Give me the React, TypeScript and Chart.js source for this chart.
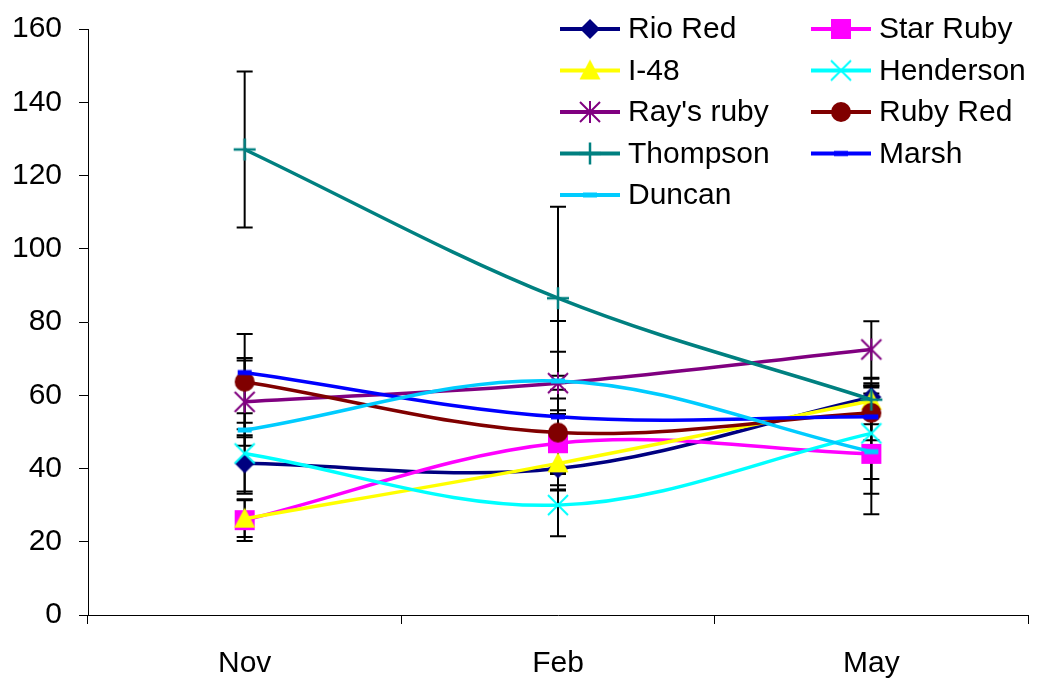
import React, { useEffect, useRef } from "react";
import { Chart, registerables } from "chart.js";

Chart.register(...registerables);

// ---------- data ----------
const months = ["Nov", "Feb", "May"];
const seriesNames = ["Rio Red", "Star Ruby", "I-48", "Henderson", "Ray's ruby", "Ruby Red", "Thompson", "Marsh", "Duncan"];

const rioRed = [41.4, 40.0, 59.5];
const starRuby = [25.9, 46.9, 44.0];
const i48 = [26.3, 41.4, 58.5];
const henderson = [44.1, 30.0, 49.6];
const raysRuby = [58.2, 63.3, 72.5];
const rubyRed = [63.7, 49.8, 55.2];
const thompson = [127.1, 86.5, 58.8];
const marsh = [66.2, 54.1, 54.1];
const duncan = [50.5, 63.9, 44.6];

const rioRedErr = [7.7, 6, 5];
const starRubyErr = [5.7, 8, 16.5];
const i48Err = [5, 6, 4];
const hendersonErr = [11, 8.5, 12.5];
const raysRubyErr = [12, 17, 7.7];
const rubyRedErr = [13, 15.5, 7.5];
const thompsonErr = [21.3, 25, 4.5];
const marshErr = [3.3, 5, 2];
const duncanErr = [2, 8, 11.5];

const yTicks = [0, 20, 40, 60, 80, 100, 120, 140, 160];

const seriesValues = [rioRed, starRuby, i48, henderson, raysRuby, rubyRed, thompson, marsh, duncan];
const seriesErrors = [rioRedErr, starRubyErr, i48Err, hendersonErr, raysRubyErr, rubyRedErr, thompsonErr, marshErr, duncanErr];
const seriesColors = ["#000080", "#FF00FF", "#FFFF00", "#00FFFF", "#800080", "#800000", "#008080", "#0000FF", "#00CCFF"];
const seriesMarkers = ["diamond", "square", "triangle", "x", "star", "circle", "plus", "dash", "dash"];

const FONT = "'Liberation Sans', Arial, Helvetica, sans-serif";
const FONT_SIZE = 30;

function makeMarker(kind: string, color: string): HTMLCanvasElement {
  const c = document.createElement("canvas");
  c.width = 26;
  c.height = 26;
  const g = c.getContext("2d")!;
  const m = 13;
  g.fillStyle = color;
  g.strokeStyle = color;
  g.lineCap = "butt";
  switch (kind) {
    case "diamond":
      g.beginPath();
      g.moveTo(m, m - 10);
      g.lineTo(m + 10, m);
      g.lineTo(m, m + 10);
      g.lineTo(m - 10, m);
      g.closePath();
      g.fill();
      break;
    case "square":
      g.fillRect(m - 10, m - 10, 20, 20);
      break;
    case "triangle":
      g.beginPath();
      g.moveTo(m, m - 11);
      g.lineTo(m + 10.5, m + 9);
      g.lineTo(m - 10.5, m + 9);
      g.closePath();
      g.fill();
      break;
    case "x":
      g.lineWidth = 2;
      g.beginPath();
      g.moveTo(m - 10, m - 10);
      g.lineTo(m + 10, m + 10);
      g.moveTo(m + 10, m - 10);
      g.lineTo(m - 10, m + 10);
      g.stroke();
      break;
    case "star":
      g.lineWidth = 2;
      g.beginPath();
      g.moveTo(m - 10, m - 10);
      g.lineTo(m + 10, m + 10);
      g.moveTo(m + 10, m - 10);
      g.lineTo(m - 10, m + 10);
      g.moveTo(m, m - 11);
      g.lineTo(m, m + 11);
      g.stroke();
      break;
    case "circle":
      g.beginPath();
      g.arc(m, m, 10, 0, Math.PI * 2);
      g.fill();
      break;
    case "plus":
      g.lineWidth = 2.5;
      g.beginPath();
      g.moveTo(m - 11, m);
      g.lineTo(m + 11, m);
      g.moveTo(m, m - 11);
      g.lineTo(m, m + 11);
      g.stroke();
      break;
    case "dash":
      g.fillRect(m - 7, m - 2.5, 14, 5);
      break;
  }
  return c;
}

const errorBarPlugin = {
  id: "errorBars",
  beforeDatasetsDraw(chart: any) {
    const ctx = chart.ctx;
    const ys = chart.scales.y;
    ctx.save();
    ctx.strokeStyle = "#000000";
    ctx.lineWidth = 2;
    chart.data.datasets.forEach((ds: any, i: number) => {
      const meta = chart.getDatasetMeta(i);
      meta.data.forEach((pt: any, j: number) => {
        const v = ds.data[j];
        const e = ds.errors[j];
        const x = pt.x;
        const yt = ys.getPixelForValue(v + e);
        const yb = ys.getPixelForValue(v - e);
        ctx.beginPath();
        ctx.moveTo(x, yt);
        ctx.lineTo(x, yb);
        ctx.moveTo(x - 8, yt);
        ctx.lineTo(x + 8, yt);
        ctx.moveTo(x - 8, yb);
        ctx.lineTo(x + 8, yb);
        ctx.stroke();
      });
    });
    ctx.restore();
  },
};

const legendPlugin = {
  id: "customLegend",
  afterDraw(chart: any) {
    const ctx = chart.ctx;
    const colX = [560, 811];
    const rowY0 = 29;
    const rowStep = 41.5;
    ctx.save();
    chart.data.datasets.forEach((ds: any, i: number) => {
      const col = i % 2;
      const row = Math.floor(i / 2);
      const x0 = colX[col];
      const y = rowY0 + row * rowStep;
      ctx.strokeStyle = ds.borderColor;
      ctx.lineWidth = 4;
      ctx.beginPath();
      ctx.moveTo(x0, y);
      ctx.lineTo(x0 + 60, y);
      ctx.stroke();
      const img = ds.pointStyle as HTMLCanvasElement;
      ctx.drawImage(img, x0 + 30 - img.width / 2, y - img.height / 2);
      ctx.fillStyle = "#000000";
      ctx.font = `${FONT_SIZE}px ${FONT}`;
      ctx.textBaseline = "middle";
      ctx.textAlign = "left";
      ctx.fillText(ds.label, x0 + 68, y + 1);
    });
    ctx.restore();
  },
};

export default function App() {
  const canvasRef = useRef<HTMLCanvasElement | null>(null);

  useEffect(() => {
    document.body.style.margin = "0";
    const canvas = canvasRef.current;
    if (!canvas) return;
    Chart.defaults.font.family = FONT;
    const datasets = seriesNames.map((name, i) => {
      const marker = makeMarker(seriesMarkers[i], seriesColors[i]);
      return {
        label: name,
        data: seriesValues[i],
        errors: seriesErrors[i],
        borderColor: seriesColors[i],
        backgroundColor: seriesColors[i],
        borderWidth: 3.5,
        tension: 0.35,
        pointStyle: marker,
        pointRadius: 10,
        pointHoverRadius: 10,
        order: -i,
        fill: false,
      } as any;
    });

    const chart = new Chart(canvas, {
      type: "line",
      data: { labels: months, datasets },
      options: {
        animation: false,
        responsive: true,
        maintainAspectRatio: false,
        events: [],
        layout: { autoPadding: false, padding: { left: 0, right: 10, top: 29, bottom: 0 } },
        plugins: {
          legend: { display: false },
          tooltip: { enabled: false },
        },
        scales: {
          x: {
            type: "category",
            offset: true,
            afterFit: (s: any) => {
              s.height = 67;
              s.paddingLeft = 0;
              s.paddingRight = 0;
              s.paddingTop = 0;
              s.paddingBottom = 0;
            },
            grid: {
              offset: true,
              drawOnChartArea: false,
              drawTicks: true,
              tickLength: 9,
              color: "#000000",
              lineWidth: 1,
            },
            border: { display: true, color: "#000000", width: 1 },
            ticks: {
              color: "#000000",
              font: { size: FONT_SIZE, family: FONT },
              padding: 22,
              maxRotation: 0,
            },
          },
          y: {
            min: 0,
            max: 160,
            afterFit: (s: any) => {
              s.width = 88;
              s.paddingLeft = 0;
              s.paddingRight = 0;
              s.paddingTop = 0;
              s.paddingBottom = 0;
            },
            afterBuildTicks: (s: any) => {
              s.ticks = yTicks.map((v) => ({ value: v }));
            },
            grid: {
              drawOnChartArea: false,
              drawTicks: true,
              tickLength: 9,
              color: "#000000",
              lineWidth: 1,
            },
            border: { display: true, color: "#000000", width: 1 },
            ticks: {
              color: "#000000",
              font: { size: FONT_SIZE, family: FONT },
              padding: 17,
            },
          },
        },
      } as any,
      plugins: [errorBarPlugin, legendPlugin],
    });
    return () => chart.destroy();
  }, []);

  return (
    <div style={{ position: "fixed", left: 0, top: 0, width: 1038, height: 682, background: "#ffffff" }}>
      <canvas ref={canvasRef} />
    </div>
  );
}
